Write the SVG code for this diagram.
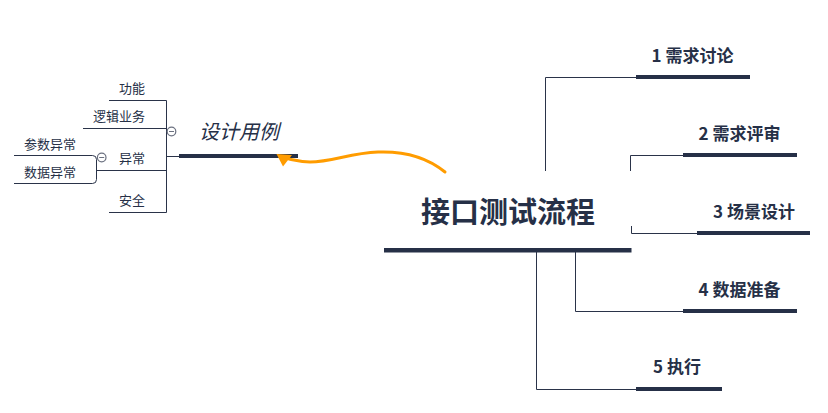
<svg xmlns="http://www.w3.org/2000/svg" width="828" height="413" viewBox="0 0 828 413">
<style>
.ln{fill:none;stroke:#2a3349;stroke-width:1}
.bar{fill:#263047}
.t{font-family:"Noto Sans CJK SC","Noto Sans",sans-serif;fill:#263047}
.b{font-weight:bold;font-size:17px;text-anchor:middle}
.s{font-size:13px;text-anchor:end}
.fold{fill:#fff;stroke:#6b7180;stroke-width:1.2}
</style>
<rect width="828" height="413" fill="#fff"/>
<g id="connectors">
<path class="ln" d="M545.5,171 V77.5 H636"/>
<path class="ln" d="M630.5,171 V155.5 H683"/>
<path class="ln" d="M631.5,226 V233.5 H697"/>
<path class="ln" d="M575.5,252 V311.5 H683"/>
<path class="ln" d="M536.5,252 V389.5 H636"/>
<path class="ln" d="M179,156.5 H166.5"/>
<path class="ln" d="M166.5,100.5 V212.5"/>
<path class="ln" d="M109,100.5 H166.5"/>
<path class="ln" d="M83,128.5 H166.5"/>
<path class="ln" d="M96.5,170.5 H166.5"/>
<path class="ln" d="M109,212.5 H166.5"/>
<path class="ln" d="M14,155.5 H92.5 Q96.5,155.5 96.5,159.5 V179.5 Q96.5,183.5 92.5,183.5 H14"/>
</g>
<g id="root">
<rect class="bar" x="384" y="248" width="247.5" height="4.5"/>
<text class="t" x="508" y="223" font-size="29" font-weight="bold" text-anchor="middle">接口测试流程</text>
</g>
<g id="n1">
<rect class="bar" x="636" y="75" width="114" height="4"/>
<text class="t b" x="692.5" y="62">1 需求讨论</text>
</g>
<g id="n2">
<rect class="bar" x="683" y="153" width="114" height="4"/>
<text class="t b" x="739.5" y="140">2 需求评审</text>
</g>
<g id="n3">
<rect class="bar" x="697" y="231" width="113" height="4"/>
<text class="t b" x="754" y="218">3 场景设计</text>
</g>
<g id="n4">
<rect class="bar" x="683" y="309" width="114" height="4"/>
<text class="t b" x="739.5" y="296">4 数据准备</text>
</g>
<g id="n5">
<rect class="bar" x="636" y="387" width="86" height="4"/>
<text class="t b" x="677" y="373">5 执行</text>
</g>
<g id="design">
<rect class="bar" x="179" y="154" width="119" height="4"/>
<text class="t" x="239" y="139" font-size="20" font-style="italic" text-anchor="middle">设计用例</text>
<circle class="fold" cx="171.5" cy="131.5" r="4.3"/>
<line x1="169" y1="131.5" x2="174" y2="131.5" stroke="#6b7180" stroke-width="1"/>
</g>
<g id="gongneng"><text class="t s" x="145" y="93">功能</text></g>
<g id="luoji"><text class="t s" x="145" y="121">逻辑业务</text></g>
<g id="yichang">
<text class="t s" x="145" y="163">异常</text>
<circle class="fold" cx="101.7" cy="157.5" r="4.3"/>
<line x1="99.2" y1="157.5" x2="104.2" y2="157.5" stroke="#6b7180" stroke-width="1"/>
</g>
<g id="anquan"><text class="t s" x="145" y="205">安全</text></g>
<g id="canshu"><text class="t s" x="76" y="149">参数异常</text></g>
<g id="shuju"><text class="t s" x="76" y="177">数据异常</text></g>
<g id="relationship">
<path d="M445,172 C428,158 405,151 378,152 C350,153 332,162 310,162 C300,162 295,160 289,159" fill="none" stroke="#FF9C00" stroke-width="3" stroke-linecap="round"/>
<polygon points="276.5,154 292,155 283,166.5" fill="#FF9C00"/>
</g>
</svg>
